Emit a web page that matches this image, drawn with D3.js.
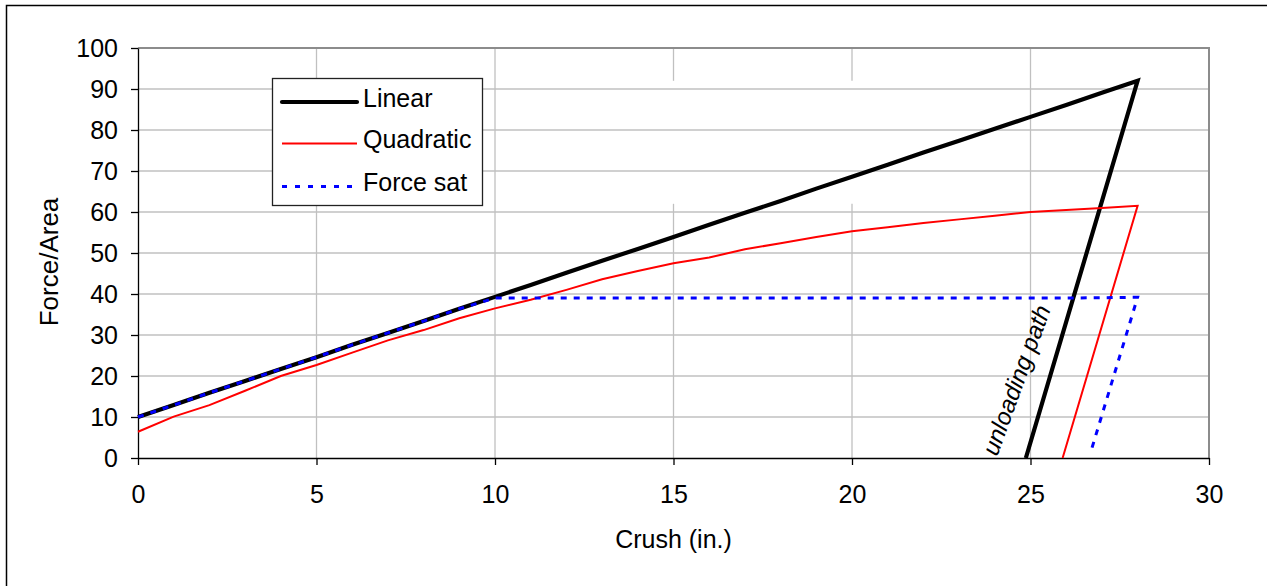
<!DOCTYPE html>
<html>
<head>
<meta charset="utf-8">
<script src="https://cdn.jsdelivr.net/npm/d3@7"></script>
<style>
  html, body { margin: 0; padding: 0; background: #fff; }
  svg { display: block; font-family: "Liberation Sans", Arial, sans-serif; }
</style>
</head>
<body>
<svg id="chart" width="1267" height="586"></svg>
<script>
// ---- Data ----
const linearX = [0, 1, 2, 3, 4, 5, 6, 7, 8, 9, 10, 11, 12, 13, 14, 15, 16, 17, 18, 19, 20, 21, 22, 23, 24, 25, 26, 27, 28, 24.87];
const linearY = [10, 12.9, 15.9, 18.8, 21.7, 24.6, 27.6, 30.5, 33.4, 36.4, 39.3, 42.2, 45.2, 48.1, 51, 53.9, 56.9, 59.8, 62.7, 65.7, 68.6, 71.5, 74.5, 77.4, 80.3, 83.2, 86.1, 89.1, 92, 0];

const quadX = [0, 1, 2, 3, 4, 5, 6, 7, 8, 9, 10, 11, 12, 13, 14, 15, 16, 17, 18, 19, 20, 21, 22, 23, 24, 25, 26, 27, 28, 25.9];
const quadY = [6.4, 10.1, 12.9, 16.4, 20, 22.7, 25.7, 28.7, 31.2, 34.1, 36.5, 38.6, 41, 43.6, 45.6, 47.5, 48.9, 50.9, 52.4, 53.9, 55.3, 56.3, 57.3, 58.2, 59.1, 60, 60.5, 61, 61.5, 0];

const satX = [0, 1, 2, 3, 4, 5, 6, 7, 8, 9, 10, 12, 14, 16, 18, 20, 22, 24, 26, 28, 26.72];
const satY = [10, 12.9, 15.9, 18.8, 21.7, 24.6, 27.6, 30.5, 33.4, 36.4, 39, 39, 39, 39, 39, 39, 39, 39, 39, 39.2, 2.4];

const xTicks = [0, 5, 10, 15, 20, 25, 30];
const yTicks = [0, 10, 20, 30, 40, 50, 60, 70, 80, 90, 100];
const seriesNames = ["Linear", "Quadratic", "Force sat"];
const xTitle = "Crush (in.)";
const yTitle = "Force/Area";
const annotation = { text: "unloading path", x: 24.6, y: 19 };
const gridGapX = [15, 20];      // vertical gridlines drawn with a gap
const gridGapY = [62, 92];      // gap range in data units

// ---- Layout ----
const svg = d3.select("#chart");
const plotL = 138, plotR = 1209, plotT = 48, plotB = 458;
const FONT = 25;

const x = d3.scaleLinear().domain([0, 30]).range([plotL, plotR]);
const y = d3.scaleLinear().domain([0, 100]).range([plotB, plotT]);

// outer frame
svg.append("rect")
  .attr("x", 6.5).attr("y", 5.5).attr("width", 1400).attr("height", 800)
  .attr("fill", "#fff").attr("stroke", "#000").attr("stroke-width", 1.5);

// gridlines
const grid = svg.append("g");
grid.selectAll(".hg").data(yTicks.filter(d => d > 0 && d < 100)).join("line")
  .attr("x1", plotL).attr("x2", plotR)
  .attr("y1", d => y(d)).attr("y2", d => y(d))
  .attr("stroke", "#c0c0c0").attr("stroke-width", 1.3);

const vSegs = [];
xTicks.filter(d => d > 0 && d < 30).forEach(d => {
  if (gridGapX.includes(d)) {
    vSegs.push({ v: d, a: 0, b: gridGapY[0] });
    vSegs.push({ v: d, a: gridGapY[1], b: 100 });
  } else {
    vSegs.push({ v: d, a: 0, b: 100 });
  }
});
grid.selectAll(".vg").data(vSegs).join("line")
  .attr("x1", d => x(d.v)).attr("x2", d => x(d.v))
  .attr("y1", d => y(d.a)).attr("y2", d => y(d.b))
  .attr("stroke", "#c0c0c0").attr("stroke-width", 1.3);

// plot-area border (top & right, gray)
svg.append("path")
  .attr("d", `M${plotL},${plotT}H${plotR}V${plotB}`)
  .attr("fill", "none").attr("stroke", "#8c8c8c").attr("stroke-width", 2);

// axes
const xAxis = d3.axisBottom(x).tickValues(xTicks).tickSize(7).tickPadding(20).tickSizeOuter(0);
const yAxis = d3.axisLeft(y).tickValues(yTicks).tickSize(7).tickPadding(13).tickSizeOuter(0);

const gx = svg.append("g").attr("transform", `translate(0,${plotB})`).call(xAxis);
const gy = svg.append("g").attr("transform", `translate(${plotL},0)`).call(yAxis);
[gx, gy].forEach(g => {
  g.select(".domain").attr("stroke", "#000").attr("stroke-width", 1.3);
  g.selectAll(".tick line").attr("stroke", "#000").attr("stroke-width", 1.3);
  g.selectAll(".tick text").attr("fill", "#000").style("font-size", FONT + "px")
    .style("font-family", "'Liberation Sans', Arial, sans-serif");
});
gy.selectAll(".tick text").attr("dy", "0.33em");

// axis titles
svg.append("text")
  .attr("x", x(15)).attr("y", 548)
  .attr("text-anchor", "middle").style("font-size", "25px").text(xTitle);
svg.append("text")
  .attr("transform", `translate(58,${(y(0) + y(100)) / 2 + 9}) rotate(-90)`)
  .attr("text-anchor", "middle").style("font-size", "26px").text(yTitle);

// lines
const lineGen = d3.line().x(d => x(d[0])).y(d => y(d[1]));
const zip = (xs, ys) => xs.map((v, i) => [v, ys[i]]);

const series = [
  { name: seriesNames[0], pts: zip(linearX, linearY), color: "#000", width: 4.2, dash: null },
  { name: seriesNames[1], pts: zip(quadX, quadY), color: "#ff0000", width: 2, dash: null },
  { name: seriesNames[2], pts: zip(satX, satY), color: "#0000ff", width: 3, dash: "6,7" }
];

series.forEach(s => {
  svg.append("path")
    .datum(s.pts)
    .attr("d", lineGen)
    .attr("fill", "none")
    .attr("stroke", s.color)
    .attr("stroke-width", s.width)
    .attr("stroke-linejoin", "miter")
    .attr("stroke-dasharray", s.dash);
});

// annotation
svg.append("text")
  .attr("transform", `translate(${x(annotation.x)},${y(annotation.y)}) rotate(-70)`)
  .attr("text-anchor", "middle")
  .attr("dy", "0.35em")
  .style("font-size", "24px")
  .style("font-style", "italic")
  .text(annotation.text);

// legend
const lg = svg.append("g");
lg.append("rect")
  .attr("x", 272.5).attr("y", 78.5).attr("width", 210).attr("height", 127)
  .attr("fill", "#fff").attr("stroke", "#222").attr("stroke-width", 1.3);
const rowsY = [102, 143.5, 186.5];
series.forEach((s, i) => {
  lg.append("line")
    .attr("x1", 282).attr("x2", 357)
    .attr("y1", rowsY[i]).attr("y2", rowsY[i])
    .attr("stroke", s.color).attr("stroke-width", s.width)
    .attr("stroke-linecap", i === 0 ? "round" : "butt")
    .attr("stroke-dasharray", s.dash ? "5,8" : null);
  lg.append("text")
    .attr("x", 363).attr("y", rowsY[i] - 4).attr("dy", "0.35em")
    .style("font-size", "25px").text(s.name);
});
</script>
</body>
</html>
